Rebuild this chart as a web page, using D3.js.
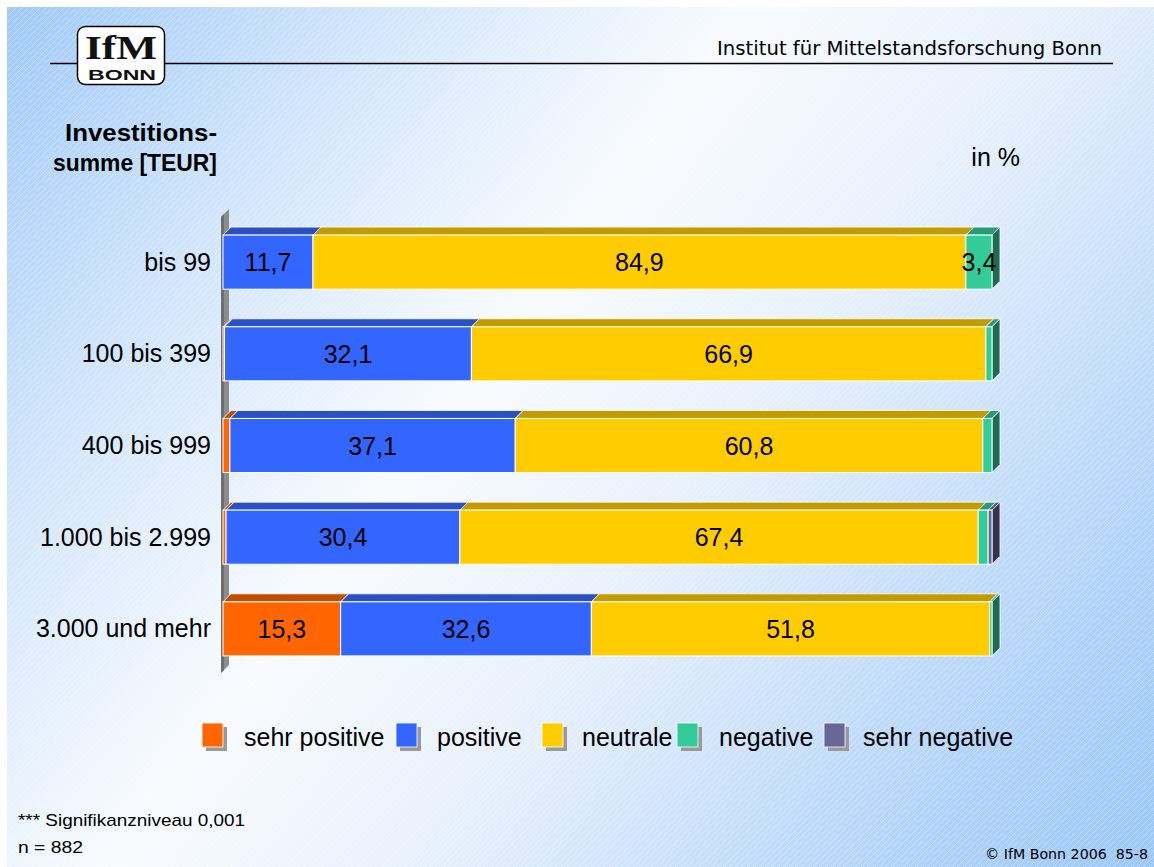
<!DOCTYPE html>
<html><head><meta charset="utf-8">
<script src="https://cdn.jsdelivr.net/npm/d3@7"></script>
<style>html,body{margin:0;padding:0;background:#fff;} svg{display:block;}</style>
</head><body>
<svg id="chart" width="1154" height="867"></svg>
<script>
// ---- data ----
const categories = ["bis 99", "100 bis 399", "400 bis 999", "1.000 bis 2.999", "3.000 und mehr"];
const seriesNames = ["sehr positive", "positive", "neutrale", "negative", "sehr negative"];
const sehrPositive = [0.0, 0.2, 0.9, 0.4, 15.3];
const positive     = [11.7, 32.1, 37.1, 30.4, 32.6];
const neutrale     = [84.9, 66.9, 60.8, 67.4, 51.8];
const negative     = [3.4, 0.8, 1.2, 1.3, 0.3];
const sehrNegative = [0.0, 0.0, 0.0, 0.5, 0.0];
const seriesValues = [sehrPositive, positive, neutrale, negative, sehrNegative];
const labelledValues = [15.3, 11.7, 32.1, 37.1, 30.4, 32.6, 84.9, 66.9, 60.8, 67.4, 51.8, 3.4];

const frontColors = ["#FF6600", "#3366FF", "#FFCC00", "#33CC99", "#666699"];
const topColors   = ["#C04D00", "#2A50C2", "#C29B00", "#279B76", "#4D4D75"];
const sideColors  = ["#993D00", "#1F3D99", "#997A00", "#1F6B52", "#33334F"];

const svg = d3.select("#chart");
const W = 1154, H = 867;
const defs = svg.append("defs");

// background gradient
const g = defs.append("linearGradient").attr("id", "bg")
  .attr("gradientUnits", "userSpaceOnUse").attr("x1", 0).attr("y1", 0).attr("x2", 1154).attr("y2", 867);
g.append("stop").attr("offset", 0).attr("stop-color", "#9FC9F8");
g.append("stop").attr("offset", 0.2).attr("stop-color", "#CFE4FB");
g.append("stop").attr("offset", 0.42).attr("stop-color", "#F8FBFE");
g.append("stop").attr("offset", 0.6).attr("stop-color", "#E6F0FC");
g.append("stop").attr("offset", 0.85).attr("stop-color", "#B3D4F9");
g.append("stop").attr("offset", 1).attr("stop-color", "#9CC8F8");
const pat = defs.append("pattern").attr("id", "hatch").attr("patternUnits", "userSpaceOnUse")
  .attr("width", 6).attr("height", 6);
pat.append("path").attr("d", "M0,6 L6,0 M-1,1 L1,-1 M5,7 L7,5").attr("stroke", "#ffffff")
  .attr("stroke-width", 0.6).attr("stroke-opacity", 0.45);

svg.append("rect").attr("width", W).attr("height", H).attr("fill", "#fff");
svg.append("rect").attr("x", 7).attr("y", 7).attr("width", W - 7).attr("height", H - 7).attr("fill", "url(#bg)");
svg.append("rect").attr("x", 7).attr("y", 7).attr("width", W - 7).attr("height", H - 7).attr("fill", "url(#hatch)");

// ---- header ----
svg.append("line").attr("x1", 50).attr("x2", 1113).attr("y1", 63.5).attr("y2", 63.5)
  .attr("stroke", "#000").attr("stroke-width", 1.5);
svg.append("rect").attr("x", 77.5).attr("y", 26.5).attr("width", 87).attr("height", 58).attr("rx", 8)
  .attr("fill", "#fff").attr("stroke", "#000").attr("stroke-width", 1.5);
svg.append("text").attr("x", 121).attr("y", 59).attr("text-anchor", "middle")
  .attr("font-family", "Liberation Serif, DejaVu Serif, serif").attr("font-weight", "bold")
  .attr("font-size", 34).attr("textLength", 72).attr("lengthAdjust", "spacingAndGlyphs").attr("fill", "#111").text("IfM");
svg.append("text").attr("x", 122).attr("y", 80).attr("text-anchor", "middle")
  .attr("font-family", "Liberation Sans, Arial, sans-serif").attr("font-weight", "bold")
  .attr("font-size", 15).attr("textLength", 68).attr("lengthAdjust", "spacingAndGlyphs").attr("fill", "#111").text("BONN");
svg.append("text").attr("x", 1102).attr("y", 55).attr("text-anchor", "end")
  .attr("font-family", "DejaVu Sans, sans-serif").attr("font-size", 19)
  .attr("textLength", 385).attr("lengthAdjust", "spacingAndGlyphs").attr("fill", "#000")
  .text("Institut für Mittelstandsforschung Bonn");

const font = "Liberation Sans, Arial, sans-serif";
svg.append("text").attr("x", 141).attr("y", 141).attr("text-anchor", "middle")
  .attr("font-family", font).attr("font-weight", "bold").attr("font-size", 24)
  .attr("textLength", 152).attr("lengthAdjust", "spacingAndGlyphs").text("Investitions-");
svg.append("text").attr("x", 135).attr("y", 171).attr("text-anchor", "middle")
  .attr("font-family", font).attr("font-weight", "bold").attr("font-size", 24)
  .attr("textLength", 164).attr("lengthAdjust", "spacingAndGlyphs").text("summe [TEUR]");
svg.append("text").attr("x", 1020).attr("y", 166).attr("text-anchor", "end")
  .attr("font-family", font).attr("font-size", 25).text("in %");

// ---- scales ----
const x = d3.scaleLinear().domain([0, 100]).range([223, 992]);
const y = d3.scaleBand().domain(categories).range([203, 688]).paddingInner(0.41).paddingOuter(0.35);
const D = 8; // 3D depth

// wall
svg.append("path").attr("d", `M221,217 L229,209 L229,665 L221,673 Z`).attr("fill", "#8c8c8c");
svg.append("path").attr("d", `M221,217 L224,214 L224,670 L221,673 Z`).attr("fill", "#6e6e6e");

// bars
const rows = categories.map((c, i) => {
  let acc = 0;
  const segs = seriesValues.map((arr, s) => {
    const v = arr[i]; const x0 = acc; acc += v;
    return {cat: c, s, v, x0, x1: acc};
  }).filter(d => d.v > 0);
  return {cat: c, segs};
});

const gBars = svg.append("g");
rows.forEach(row => {
  const y0 = y(row.cat), h = y.bandwidth();
  const gr = gBars.append("g");
  gr.selectAll("path.top").data(row.segs).join("path").attr("class", "top")
    .attr("d", d => `M${x(d.x0)},${y0} L${x(d.x0) + D},${y0 - D} L${x(d.x1) + D},${y0 - D} L${x(d.x1)},${y0} Z`)
    .attr("fill", d => topColors[d.s]).attr("stroke", "#fff").attr("stroke-width", 0.8);
  const last = row.segs[row.segs.length - 1];
  gr.append("path")
    .attr("d", `M${x(last.x1)},${y0} L${x(last.x1) + D},${y0 - D} L${x(last.x1) + D},${y0 + h - D} L${x(last.x1)},${y0 + h} Z`)
    .attr("fill", sideColors[last.s]).attr("stroke", "#fff").attr("stroke-width", 0.8);
  gr.selectAll("rect.front").data(row.segs).join("rect").attr("class", "front")
    .attr("x", d => x(d.x0)).attr("y", y0).attr("width", d => x(d.x1) - x(d.x0)).attr("height", h)
    .attr("fill", d => frontColors[d.s]).attr("stroke", "#fff").attr("stroke-width", 1);
  gr.selectAll("text").data(row.segs.filter(d => labelledValues.includes(d.v))).join("text")
    .attr("x", d => (x(d.x0) + x(d.x1)) / 2).attr("y", y0 + h / 2 + 9)
    .attr("text-anchor", "middle").attr("font-family", font).attr("font-size", 25).attr("fill", "#000")
    .text(d => d3.format(".1f")(d.v).replace(".", ","));
});

// category axis labels
const yAxis = d3.axisLeft(y).tickSize(0).tickPadding(0);
const ya = svg.append("g").attr("transform", "translate(211,0)").call(yAxis);
ya.select(".domain").remove();
ya.selectAll("text").attr("font-family", font).attr("font-size", 25).attr("fill", "#000").attr("dy", "0.34em");

// legend
const legX = [202, 396, 542, 677, 824];
const legTX = [244, 437, 582, 719, 863];
const leg = svg.append("g");
seriesNames.forEach((n, i) => {
  leg.append("rect").attr("x", legX[i] + 4).attr("y", 727).attr("width", 21).attr("height", 24).attr("fill", "#999");
  leg.append("rect").attr("x", legX[i]).attr("y", 723).attr("width", 21).attr("height", 24)
    .attr("fill", frontColors[i]).attr("stroke", "#fff").attr("stroke-width", 0.8);
  leg.append("text").attr("x", legTX[i]).attr("y", 746).attr("font-family", font).attr("font-size", 25).text(n);
});

// footer
svg.append("text").attr("x", 18).attr("y", 826).attr("font-family", font).attr("font-size", 17)
  .attr("textLength", 227).attr("lengthAdjust", "spacingAndGlyphs").text("*** Signifikanzniveau 0,001");
svg.append("text").attr("x", 18).attr("y", 853).attr("font-family", font).attr("font-size", 17)
  .attr("textLength", 65).attr("lengthAdjust", "spacingAndGlyphs").text("n = 882");
svg.append("text").attr("x", 1148).attr("y", 859).attr("text-anchor", "end").attr("font-family", "DejaVu Sans, sans-serif")
  .attr("font-size", 14).attr("textLength", 163).attr("lengthAdjust", "spacingAndGlyphs")
  .style("white-space", "pre").text("© IfM Bonn 2006\u00A0\u00A085-8");
</script>
</body></html>
